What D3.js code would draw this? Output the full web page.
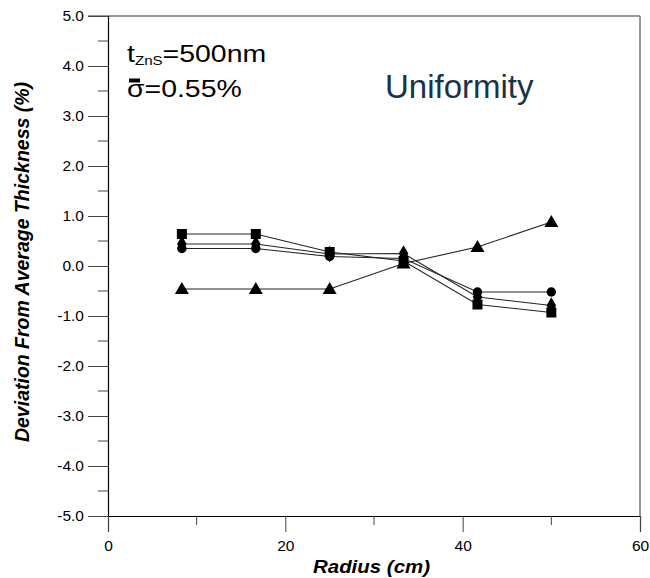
<!DOCTYPE html>
<html>
<head>
<meta charset="utf-8">
<script src="https://cdn.jsdelivr.net/npm/d3@7"></script>
<style>
  body { margin: 0; background: #fff; }
  text { font-family: "Liberation Sans", Arial, sans-serif; }
</style>
</head>
<body>
<svg id="chart" width="650" height="578"></svg>
<script>
// radius positions (cm)
var radius = [8.33, 16.67, 25, 33.33, 41.67, 50];

// deviation from average thickness (%) for each run
var squares   = [0.64, 0.64, 0.28, 0.10, -0.77, -0.93];
var diamonds  = [0.44, 0.44, 0.24, 0.25, -0.62, -0.79];
var circles   = [0.35, 0.35, 0.19, 0.15, -0.52, -0.52];
var triangles = [-0.46, -0.46, -0.46, 0.05, 0.38, 0.88];

var xTicks = [0, 20, 40, 60];
var yTicks = [-5, -4, -3, -2, -1, 0, 1, 2, 3, 4, 5];

var series = [
  { name: "squares", values: squares, symbol: d3.symbolSquare, size: 100 },
  { name: "diamonds", values: diamonds, symbol: d3.symbolDiamond, size: 80 },
  { name: "circles", values: circles, symbol: d3.symbolCircle, size: 70 },
  { name: "triangles", values: triangles, symbol: d3.symbolTriangle, size: 85 }
];

var svg = d3.select("#chart");
var margin = { left: 108, right: 10, top: 16, bottom: 62 };
var width = 650 - margin.left - margin.right,
    height = 578 - margin.top - margin.bottom;

var x = d3.scaleLinear().domain([0, 60]).range([0, width]);
var y = d3.scaleLinear().domain([-5, 5]).range([height, 0]);

var g = svg.append("g")
    .attr("transform", "translate(" + margin.left + "," + margin.top + ")");

// frame top and right (grey)
g.append("line").attr("x1", -20).attr("x2", width).attr("y1", 0).attr("y2", 0)
    .attr("stroke", "#777").attr("stroke-width", 1.5);
g.append("line").attr("x1", width).attr("x2", width).attr("y1", 0).attr("y2", height)
    .attr("stroke", "#777").attr("stroke-width", 1.5);

// y axis
var fmt = d3.format(".1f");
var yAxis = g.append("g")
    .call(d3.axisLeft(y).tickValues(yTicks).tickSize(20).tickPadding(4)
      .tickFormat(function(d){ return d < 0 ? "-" + fmt(-d) : fmt(d); }));
yAxis.select(".domain").attr("stroke", "#000").attr("stroke-width", 1.2);
yAxis.selectAll(".tick line").attr("stroke", "#444");
yAxis.selectAll(".tick text").attr("font-size", 15.5).attr("fill", "#000");
// minor y ticks
g.append("g").selectAll("line")
    .data(d3.range(-4.5, 5, 1))
    .enter().append("line")
    .attr("x1", -10).attr("x2", 0)
    .attr("y1", function(d){ return y(d); }).attr("y2", function(d){ return y(d); })
    .attr("stroke", "#444");

// x axis
var xAxis = g.append("g")
    .attr("transform", "translate(0," + height + ")")
    .call(d3.axisBottom(x).tickValues(xTicks).tickSize(16).tickPadding(8));
xAxis.select(".domain").attr("stroke", "#000").attr("stroke-width", 1.2);
xAxis.selectAll(".tick line").attr("stroke", "#444");
xAxis.selectAll(".tick text").attr("font-size", 15.5).attr("fill", "#000");
// minor x ticks
g.append("g").selectAll("line")
    .data([10, 30, 50])
    .enter().append("line")
    .attr("x1", function(d){ return x(d); }).attr("x2", function(d){ return x(d); })
    .attr("y1", height).attr("y2", height + 9)
    .attr("stroke", "#444");

// axis titles
svg.append("text")
    .attr("x", 313).attr("y", 573)
    .attr("textLength", 117).attr("lengthAdjust", "spacingAndGlyphs")
    .attr("font-size", 18.5).attr("font-weight", "bold").attr("font-style", "italic")
    .text("Radius (cm)");
svg.append("text")
    .attr("transform", "translate(29," + (margin.top + y(0) - 4) + ") rotate(-90)")
    .attr("text-anchor", "middle")
    .attr("font-size", 19.5).attr("font-weight", "bold").attr("font-style", "italic")
    .text("Deviation From Average Thickness (%)");

// lines
var line = d3.line()
    .x(function(d, i){ return x(radius[i]); })
    .y(function(d){ return y(d); });

g.selectAll(".series-line")
    .data(series)
    .enter().append("path")
    .attr("class", "series-line")
    .attr("d", function(s){ return line(s.values); })
    .attr("fill", "none")
    .attr("stroke", "#222")
    .attr("stroke-width", 1.1);

// markers
series.forEach(function(s){
  var sym = d3.symbol().type(s.symbol).size(s.size);
  g.append("g").selectAll("path")
    .data(s.values)
    .enter().append("path")
    .attr("d", sym)
    .attr("transform", function(d, i){
      var dy = s.symbol === d3.symbolTriangle ? 1 : 0;
      return "translate(" + x(radius[i]) + "," + (y(d) + dy) + ")";
    })
    .attr("fill", "#000");
});

// annotations (slightly stretched horizontally like the original)
var ag = svg.append("g").attr("transform", "translate(127,0) scale(1.21,1)");
var ann = ag.append("text").attr("x", 0).attr("y", 62).attr("font-size", 23.5).attr("fill", "#000");
ann.append("tspan").text("t");
ann.append("tspan").attr("font-size", 12.5).attr("dy", 3).text("ZnS");
ann.append("tspan").attr("dy", -3).text("=500nm");

ag.append("text").attr("x", 0).attr("y", 97).attr("font-size", 23.5).attr("fill", "#000")
    .text("σ=0.55%");
svg.append("rect").attr("x", 129).attr("y", 78.5).attr("width", 11).attr("height", 4).attr("fill", "#000");

svg.append("text")
    .attr("x", 385).attr("y", 98)
    .attr("font-family", "'Open Sans', sans-serif")
    .attr("font-size", 33)
    .attr("fill", "#17334a")
    .text("Uniformity");
</script>
</body>
</html>
